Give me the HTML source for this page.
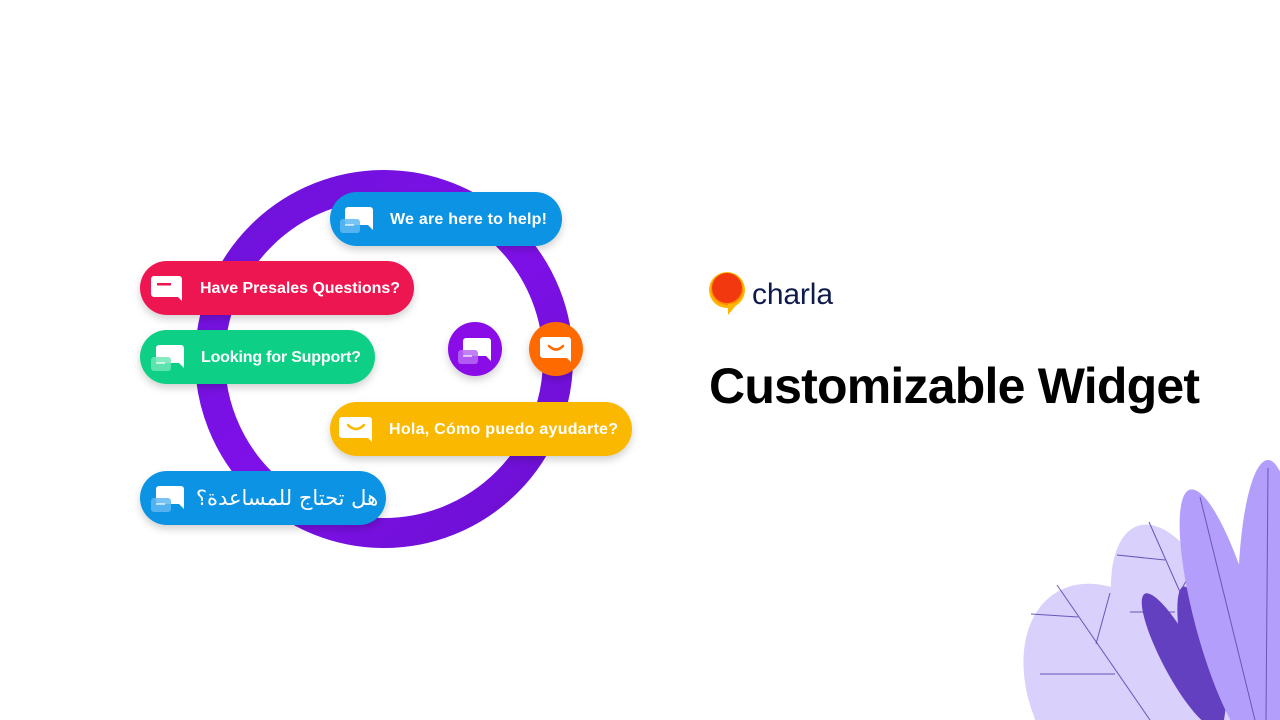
<!DOCTYPE html>
<html><head><meta charset="utf-8"><style>
html,body{margin:0;padding:0;background:#fff;width:1280px;height:720px;overflow:hidden}
svg{display:block}
text{font-family:"Liberation Sans","DejaVu Sans",sans-serif;font-weight:bold;fill:#fff}
</style></head><body>
<svg width="1280" height="720" viewBox="0 0 1280 720" xmlns="http://www.w3.org/2000/svg">
<defs>
<filter id="sh" x="-20%" y="-30%" width="140%" height="170%"><feDropShadow dx="0" dy="4" stdDeviation="4" flood-color="#000" flood-opacity="0.18"/></filter>
<linearGradient id="ring" x1="0" y1="0" x2="1" y2="1"><stop offset="0" stop-color="#6c12d8"/><stop offset="0.5" stop-color="#8010ea"/><stop offset="1" stop-color="#6a10d0"/></linearGradient>
<g id="bub2">
  <path d="M-4 -12 h22 a3 3 0 0 1 3 3 v20 l-5 -5 h-20 a3 3 0 0 1 -3 -3 v-12 a3 3 0 0 1 3 -3z" fill="#fff"/>
  <rect x="-12" y="0" width="20" height="14" rx="3" fill="currentColor" opacity="0.85"/>
  <rect x="-7" y="5" width="9" height="2" fill="#fff" opacity="0.6"/>
</g>
</defs>
<circle cx="384" cy="359" r="174" fill="none" stroke="url(#ring)" stroke-width="30"/>

<g filter="url(#sh)"><rect x="330" y="192" width="232" height="54" rx="27" fill="#0a93e3"/></g>
<g transform="translate(352,219)" color="#5fb8f2"><use href="#bub2"/></g>
<text x="390" y="224" font-size="16" textLength="157">We are here to help!</text>

<g filter="url(#sh)"><rect x="140" y="261" width="274" height="54" rx="27" fill="#ee1651"/></g>
<path d="M154 276 h25 a3 3 0 0 1 3 3 v22 l-4 -4 h-24 a3 3 0 0 1 -3 -3 v-15 a3 3 0 0 1 3 -3z" fill="#fff"/>
<rect x="157" y="283" width="14" height="2.5" fill="#ee1651"/>
<text x="200" y="293" font-size="16" textLength="200">Have Presales Questions?</text>

<g filter="url(#sh)"><rect x="140" y="330" width="235" height="54" rx="27" fill="#0ccf85"/></g>
<g transform="translate(163,357)" color="#6fe6b5"><use href="#bub2"/></g>
<text x="201" y="362" font-size="16" textLength="160">Looking for Support?</text>

<g filter="url(#sh)"><circle cx="475" cy="349" r="27" fill="#8a0be8"/></g>
<g transform="translate(470,350)" color="#b66af2"><use href="#bub2"/></g>
<g filter="url(#sh)"><circle cx="556" cy="349" r="27" fill="#ff6a00"/></g>
<path d="M543 337 h25 a3 3 0 0 1 3 3 v22 l-4 -4 h-24 a3 3 0 0 1 -3 -3 v-15 a3 3 0 0 1 3 -3z" fill="#fff"/>
<path d="M549 346 q7 7 14 0" fill="none" stroke="#ff6a00" stroke-width="2.5" stroke-linecap="round"/>

<g filter="url(#sh)"><rect x="330" y="402" width="302" height="54" rx="27" fill="#fbb800"/></g>
<path d="M342 417 h27 a3 3 0 0 1 3 3 v22 l-4 -4 h-26 a3 3 0 0 1 -3 -3 v-15 a3 3 0 0 1 3 -3z" fill="#fff"/>
<path d="M348 425 q8 8 16 0" fill="none" stroke="#fbb800" stroke-width="2.5" stroke-linecap="round"/>
<text x="389" y="434" font-size="16" textLength="229">Hola, Cómo puedo ayudarte?</text>

<g filter="url(#sh)"><rect x="140" y="471" width="246" height="54" rx="27" fill="#0a93e3"/></g>
<g transform="translate(163,498)" color="#5fb8f2"><use href="#bub2"/></g>
<text x="287" y="505" font-size="21" text-anchor="middle" style="font-family:'DejaVu Sans',sans-serif;font-weight:normal">هل تحتاج للمساعدة؟</text>

<circle cx="727" cy="290" r="18" fill="#ffb400"/>
<circle cx="727" cy="289" r="16" fill="#ff8a00"/>
<circle cx="727" cy="288" r="15" fill="#f2380f"/>
<path d="M728 304 l0 11 l10 -12z" fill="#ffb400"/>
<text x="752" y="304" font-size="30" textLength="81" style="fill:#0f1b4c;font-weight:normal">charla</text>

<text x="709" y="403" font-size="50" textLength="491" style="fill:#000">Customizable Widget</text>

<g>
<ellipse cx="1120" cy="700" rx="85" ry="125" transform="rotate(-30 1120 700)" fill="#d9d0fb"/>
<ellipse cx="1175" cy="640" rx="55" ry="120" transform="rotate(-18 1175 640)" fill="#d9d0fb"/>
<path d="M1057 585 L1150 720 M1031 614 L1078 617 M1110 593 L1096 644 M1040 674 L1115 674 M1149 522 L1180 592 M1117 555 L1165 560 M1130 612 L1175 612 M1195 565 L1180 592" stroke="#6a55b8" stroke-width="1" fill="none"/>
<ellipse cx="1180" cy="660" rx="17" ry="75" transform="rotate(-28 1180 660)" fill="#6340c0"/>
<ellipse cx="1198" cy="655" rx="15" ry="70" transform="rotate(-12 1198 655)" fill="#6340c0"/>
<ellipse cx="1215" cy="680" rx="12" ry="60" fill="#6340c0"/>
<ellipse cx="1225" cy="620" rx="30" ry="135" transform="rotate(-15 1225 620)" fill="#b39efc"/>
<ellipse cx="1268" cy="600" rx="30" ry="140" fill="#b39efc"/>
<path d="M1200 497 L1255 720 M1268 468 L1266 720" stroke="#6a55b8" stroke-width="1" fill="none"/>
</g>
</svg>
</body></html>
